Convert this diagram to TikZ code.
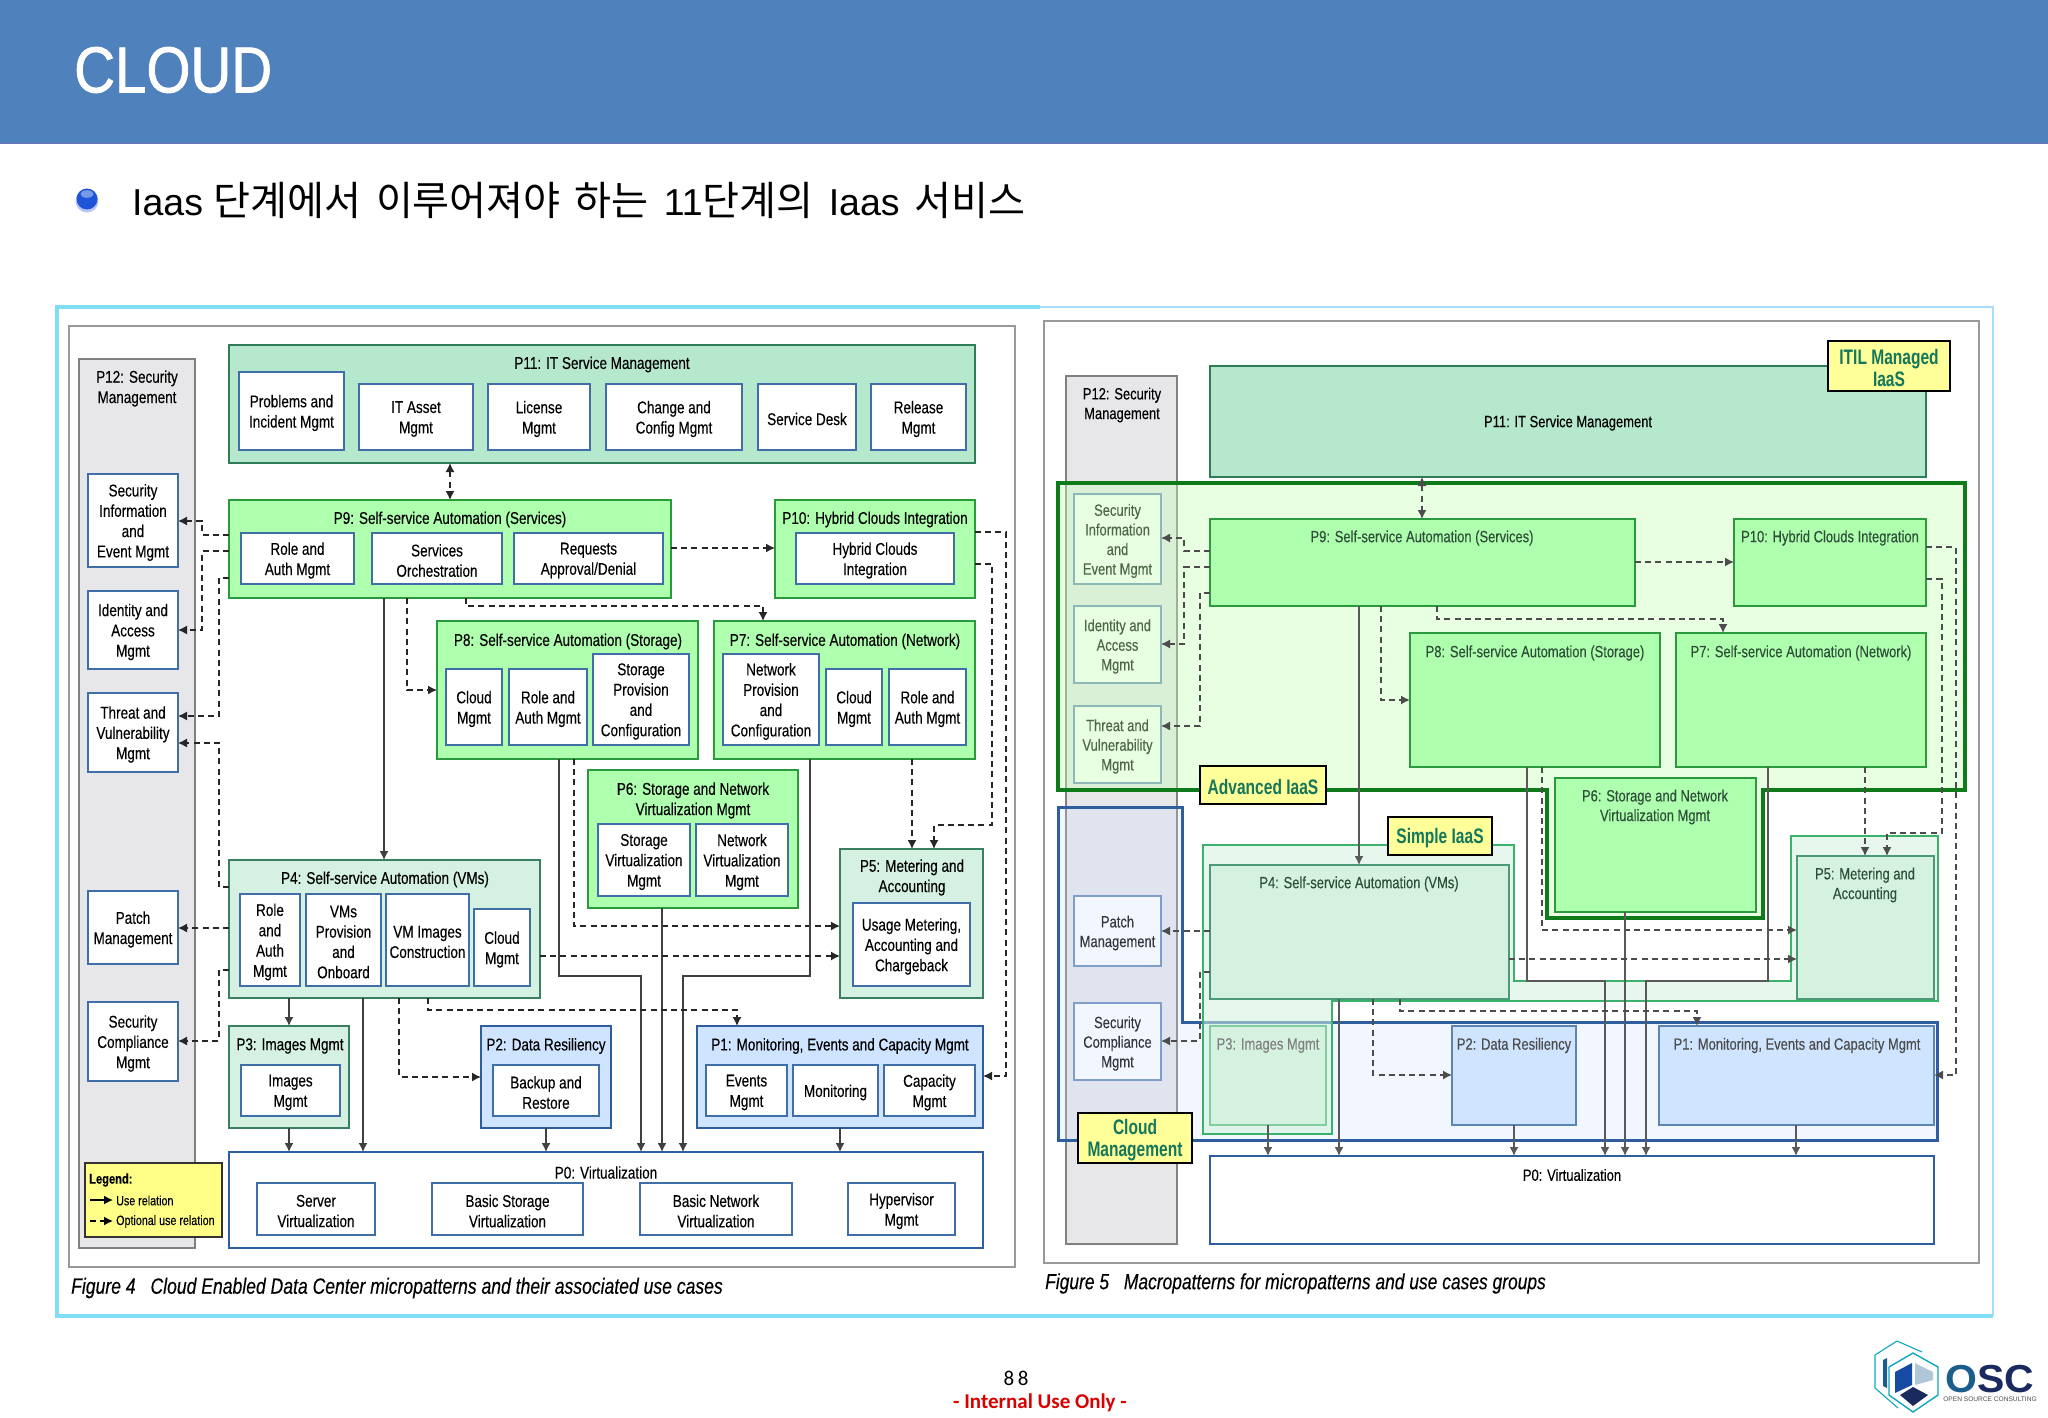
\documentclass[tikz,border=0pt]{standalone}
\usepackage{fontspec}
\usetikzlibrary{arrows.meta,shapes.geometric}
\setmainfont{Liberation Sans}
\newfontfamily\diag[FakeStretch=0.795,FakeBold=0.25]{Liberation Sans}
\newfontfamily\labf[FakeStretch=0.74]{Liberation Sans}
\newfontfamily\titlef[FakeStretch=0.87,FakeBold=1.2]{Liberation Sans}
\newfontfamily\krf{Noto Sans CJK KR}
\newfontfamily\foot{Carlito}
\newfontfamily\logof[FakeStretch=1.05]{Liberation Sans}
\definecolor{hdrblue}{HTML}{4F81BD}
\definecolor{hdrline}{HTML}{6A78B8}
\definecolor{ublue}{HTML}{3F6EA8}
\definecolor{bfill}{HTML}{CFE4FF}
\definecolor{gfill}{HTML}{AEFFAE}
\definecolor{gdraw}{HTML}{2A9A3C}
\definecolor{tfill}{HTML}{B6E8CE}
\definecolor{tdraw}{HTML}{2F7D57}
\definecolor{mfill}{HTML}{D4F1E1}
\definecolor{mdraw}{HTML}{3A8060}
\definecolor{labtx}{HTML}{14775A}
\definecolor{labfill}{HTML}{FFFF99}
\definecolor{legfill}{HTML}{FFFF88}
\definecolor{pgray}{HTML}{E7E7EA}
\definecolor{cyanf}{HTML}{7FDDF5}
\definecolor{cyanl}{HTML}{A8DFF8}
\definecolor{rtx}{HTML}{2F4F3A}
\definecolor{advd}{HTML}{0F7A1A}
\definecolor{advf}{HTML}{C7FFB8}
\definecolor{simd}{HTML}{3BB26B}
\definecolor{simf}{HTML}{D5F2E0}
\definecolor{simb}{HTML}{4A9A78}
\definecolor{cldd}{HTML}{2F5E9E}
\definecolor{cldf}{HTML}{C8DCFF}
\definecolor{navy}{HTML}{1B2A5E}
\definecolor{osc}{HTML}{1B5E8C}
\definecolor{ballb}{HTML}{1E55D8}
\definecolor{ballh}{HTML}{B8C4F8}
\newcommand{\bx}[7]{%
  \pgfmathsetmacro\bxw{#4-#2}\pgfmathsetmacro\bxh{#5-#3}%
  \node[#6,minimum width=\bxw pt,minimum height=\bxh pt,inner sep=0pt,outer sep=0pt,anchor=north west] (#1) at (#2,#3) {};%
  \if\relax\detokenize{#7}\relax\else
  \node[#6,draw=none,fill=none,inner sep=0pt,align=center] (#1t) at ([yshift=-2pt]#1.center) {#7};\fi}
\tikzset{
  lf/.style={font=\diag\fontsize{17}{20.3}\selectfont,text=black},
  rf/.style={font=\diag\fontsize{16.3}{19.6}\selectfont,text=rtx},
  ibox/.style={draw=ublue,fill=white,line width=2pt,lf},
  gbox/.style={draw=gdraw,fill=gfill,line width=2.2pt},
  tbox/.style={draw=tdraw,fill=tfill,line width=2.2pt},
  mbox/.style={draw=mdraw,fill=mfill,line width=2.2pt},
  ubox/.style={draw=cldd,fill=bfill,line width=2.2pt},
  zbox/.style={draw=cldd,fill=white,line width=2.2pt},
  grbox/.style={draw=black!50,fill=pgray,line width=2pt},
  rsec/.style={draw=ublue!80,fill=white,line width=2pt,rf,text=black},
  lab/.style={draw=black,fill=labfill,line width=2.5pt,text=labtx,font=\labf\bfseries\fontsize{21}{22.5}\selectfont},
  ttl/.style={lf,inner sep=0pt,align=center,yshift=-1.5pt},
  rttl/.style={rf,inner sep=0pt,align=center,yshift=-1pt},
  opt/.style={draw=black!85,line width=1.4pt,dash pattern=on 6pt off 4.2pt,-{Latex[length=9pt,width=9pt]}},
  usee/.style={draw=black!75,line width=1.5pt,-{Latex[length=9pt,width=9pt]}},
  ropt/.style={opt,draw=black!70},
  ruse/.style={usee,draw=black!65},
  capt/.style={font=\diag\itshape\fontsize{22}{26}\selectfont,text=black,anchor=west,inner sep=0pt},
}
\begin{document}
\begin{tikzpicture}[x=1pt,y=-1pt]
\useasboundingbox (0,0) rectangle (2048,1418);
\fill[white] (0,0) rectangle (2048,1418);
% header
\fill[hdrblue] (0,0) rectangle (2048,143.5);
\draw[hdrline,line width=1pt] (0,143.5) -- (2048,143.5);
\node[anchor=west,inner sep=0pt,text=white,font=\titlef\fontsize{65}{70}\selectfont] (cloudt) at (74,70) {CLOUD};
% bullet
\fill[ballh] (87,201) circle (11.5);
\fill[ballb] (87,199) circle (10.5);
\fill[white,opacity=.4] (87,194) ellipse (6.5 and 3.8);
\node[anchor=west,inner sep=0pt,text=black,font=\fontsize{37.5}{44}\selectfont] (subt) at (132,200) {Iaas\hspace{10pt}{\krf\fontsize{40.2}{44}\selectfont 단계에서\hspace{15pt}이루어져야\hspace{14pt}하는}\hspace{15pt}11{\krf\fontsize{40.2}{44}\selectfont 단계의}\hspace{15pt}Iaas\hspace{15pt}{\krf\fontsize{40.2}{44}\selectfont 서비스}};
% outer frame
\draw[cyanl,line width=2pt] (1040,307) -- (1993,307) -- (1993,1316);
\draw[cyanf,line width=3.5pt] (1993,1316) -- (57,1316) -- (57,307) -- (1040,307);
% ================= LEFT PANEL =================
\bx{lframe}{69}{326}{1015}{1267}{draw=black!40,fill=white,line width=1.6pt}{}
\bx{lp12}{79}{359}{195}{1248}{grbox}{}
\node[ttl] (lp12t) at (137,387) {P12: Security\\Management};
\bx{lsinfo}{88}{474}{178}{567}{ibox}{Security\\Information\\and\\Event Mgmt}
\bx{lidac}{88}{591}{178}{669}{ibox}{Identity and\\Access\\Mgmt}
\bx{lthrt}{88}{693}{178}{772}{ibox}{Threat and\\Vulnerability\\Mgmt}
\bx{lpatch}{88}{891}{178}{964}{ibox}{Patch\\Management}
\bx{lscomp}{88}{1002}{178}{1081}{ibox}{Security\\Compliance\\Mgmt}
% P11
\bx{lp11}{229}{345}{975}{463}{tbox}{}
\node[ttl] (lp11t) at (602,363) {P11: IT Service Management};
\bx{la}{239}{372}{344}{450}{ibox}{Problems and\\Incident Mgmt}
\bx{lb}{359}{384}{473}{450}{ibox}{IT Asset\\Mgmt}
\bx{lc}{488}{384}{590}{450}{ibox}{License\\Mgmt}
\bx{ld}{606}{384}{742}{450}{ibox}{Change and\\Config Mgmt}
\bx{le}{758}{384}{856}{450}{ibox}{Service Desk}
\bx{lf1}{871}{384}{966}{450}{ibox}{Release\\Mgmt}
% P9
\bx{lp9}{229}{500}{671}{598}{gbox}{}
\node[ttl] (lp9t) at (450,518) {P9: Self-service Automation (Services)};
\bx{l9a}{241}{533}{354}{584}{ibox}{Role and\\Auth Mgmt}
\bx{l9b}{372}{533}{502}{584}{ibox}{Services\\Orchestration}
\bx{l9c}{514}{533}{663}{584}{ibox}{Requests\\Approval/Denial}
% P10
\bx{lp10}{775}{500}{975}{598}{gbox}{}
\node[ttl] (lp10t) at (875,518) {P10: Hybrid Clouds Integration};
\bx{l10a}{796}{533}{954}{584}{ibox}{Hybrid Clouds\\Integration}
% P8
\bx{lp8}{437}{621}{698}{759}{gbox}{}
\node[ttl] (lp8t) at (568,640) {P8: Self-service Automation (Storage)};
\bx{l8a}{446}{669}{502}{745}{ibox}{Cloud\\Mgmt}
\bx{l8b}{509}{669}{587}{745}{ibox}{Role and\\Auth Mgmt}
\bx{l8c}{593}{654}{689}{745}{ibox}{Storage\\Provision\\and\\Configuration}
% P7
\bx{lp7}{714}{621}{975}{759}{gbox}{}
\node[ttl] (lp7t) at (845,640) {P7: Self-service Automation (Network)};
\bx{l7a}{723}{654}{819}{745}{ibox}{Network\\Provision\\and\\Configuration}
\bx{l7b}{826}{669}{882}{745}{ibox}{Cloud\\Mgmt}
\bx{l7c}{889}{669}{966}{745}{ibox}{Role and\\Auth Mgmt}
% P6
\bx{lp6}{588}{770}{798}{908}{gbox}{}
\node[ttl] (lp6t) at (693,799) {P6: Storage and Network\\Virtualization Mgmt};
\bx{l6a}{598}{824}{690}{896}{ibox}{Storage\\Virtualization\\Mgmt}
\bx{l6b}{696}{824}{788}{896}{ibox}{Network\\Virtualization\\Mgmt}
% P5
\bx{lp5}{840}{849}{983}{998}{mbox}{}
\node[ttl] (lp5t) at (912,876) {P5: Metering and\\Accounting};
\bx{l5a}{853}{903}{970}{986}{ibox}{Usage Metering,\\Accounting and\\Chargeback}
% P4
\bx{lp4}{229}{860}{540}{998}{mbox}{}
\node[ttl] (lp4t) at (385,878) {P4: Self-service Automation (VMs)};
\bx{l4a}{240}{894}{300}{986}{ibox}{Role\\and\\Auth\\Mgmt}
\bx{l4b}{306}{894}{381}{986}{ibox}{VMs\\Provision\\and\\Onboard}
\bx{l4c}{386}{894}{469}{986}{ibox}{VM Images\\Construction}
\bx{l4d}{474}{909}{530}{986}{ibox}{Cloud\\Mgmt}
% P3
\bx{lp3}{229}{1026}{349}{1128}{mbox}{}
\node[ttl] (lp3t) at (290,1044.5) {P3: Images Mgmt};
\bx{l3a}{241}{1065}{340}{1116}{ibox}{Images\\Mgmt}
% P2
\bx{lp2}{481}{1026}{611}{1128}{ubox}{}
\node[ttl] (lp2t) at (546,1044.5) {P2: Data Resiliency};
\bx{l2a}{493}{1065}{599}{1116}{ibox}{Backup and\\Restore}
% P1
\bx{lp1}{697}{1026}{983}{1128}{ubox}{}
\node[ttl] (lp1t) at (840,1044.5) {P1: Monitoring, Events and Capacity Mgmt};
\bx{l1a}{706}{1065}{787}{1116}{ibox}{Events\\Mgmt}
\bx{l1b}{793}{1065}{878}{1116}{ibox}{Monitoring}
\bx{l1c}{884}{1065}{975}{1116}{ibox}{Capacity\\Mgmt}
% P0
\bx{lp0}{229}{1152}{983}{1248}{zbox}{}
\node[ttl] (lp0t) at (606,1171) {P0: Virtualization};
\bx{l0a}{257}{1183}{375}{1235}{ibox}{Server\\Virtualization}
\bx{l0b}{432}{1183}{583}{1235}{ibox}{Basic Storage\\Virtualization}
\bx{l0c}{640}{1183}{792}{1235}{ibox}{Basic Network\\Virtualization}
\bx{l0d}{848}{1183}{955}{1235}{ibox}{Hypervisor\\Mgmt}
% Legend
\bx{legend}{85}{1163}{222}{1237}{draw=black!80,fill=legfill,line width=2pt}{}
\node[anchor=west,inner sep=0pt,font=\diag\bfseries\fontsize{14}{16}\selectfont] (legt) at (89,1180) {Legend:};
\coordinate (lega1) at (90,1200); \coordinate (lega2) at (113,1200);
\coordinate (legb1) at (90,1221); \coordinate (legb2) at (113,1221);
\draw[usee,draw=black] (lega1) -- (lega2);
\draw[opt,draw=black,dash pattern=on 6pt off 4pt] (legb1) -- (legb2);
\node[anchor=west,inner sep=0pt,font=\diag\fontsize{13.5}{16}\selectfont] (legu) at (116,1200.5) {Use relation};
\node[anchor=west,inner sep=0pt,font=\diag\fontsize{13.5}{16}\selectfont] (lego) at (116,1221.5) {Optional use relation};
% Left connectors
\draw[opt,{Latex[length=9pt,width=9pt]}-{Latex[length=9pt,width=9pt]}] (lp11.south -| 450,0) -- (lp9.north -| 450,0);
\draw[opt] (lp9.west |- 0,535) -- (202,535) -- (202,521) -- (lsinfo.east |- 0,521);
\draw[opt] (lp9.west |- 0,551) -- (202,551) -- (202,630) -- (lidac.east |- 0,630);
\draw[opt] (lp9.west |- 0,578) -- (219,578) -- (219,716) -- (lthrt.east |- 0,716);
\draw[opt] (lp4.west |- 0,887) -- (219,887) -- (219,743) -- (lthrt.east |- 0,743);
\draw[opt] (lp4.west |- 0,928) -- (lpatch.east |- 0,928);
\draw[opt] (lp4.west |- 0,970) -- (219,970) -- (219,1041) -- (lscomp.east |- 0,1041);
\draw[usee] (lp9.south -| 384,0) -- (lp4.north -| 384,0);
\draw[opt] (lp9.south -| 407,0) -- (407,690) -- (lp8.west |- 0,690);
\draw[opt] (lp9.south -| 466,0) -- (466,606) -- (763,606) -- (lp7.north -| 763,0);
\draw[opt] (lp9.east |- 0,548) -- (lp10.west |- 0,548);
\draw[opt] (lp10.east |- 0,532) -- (1006,532) -- (1006,1076) -- (lp1.east |- 0,1076);
\draw[opt] (lp10.east |- 0,564) -- (992,564) -- (992,825) -- (934,825) -- (lp5.north -| 934,0);
\draw[opt] (lp7.south -| 912,0) -- (lp5.north -| 912,0);
\draw[opt] (lp8.south -| 574,0) -- (574,926) -- (lp5.west |- 0,926);
\draw[usee] (lp8.south -| 559,0) -- (559,976) -- (641,976) -- (lp0.north -| 641,0);
\draw[usee] (lp6.south -| 662,0) -- (lp0.north -| 662,0);
\draw[usee] (lp7.south -| 810,0) -- (810,976) -- (683,976) -- (lp0.north -| 683,0);
\draw[opt] (lp4.east |- 0,956) -- (lp5.west |- 0,956);
\draw[usee] (lp4.south -| 289,0) -- (lp3.north -| 289,0);
\draw[usee] (lp4.south -| 363,0) -- (lp0.north -| 363,0);
\draw[opt] (lp4.south -| 399,0) -- (399,1077) -- (lp2.west |- 0,1077);
\draw[opt] (lp4.south -| 428,0) -- (428,1010) -- (737,1010) -- (lp1.north -| 737,0);
\draw[usee] (lp3.south -| 289,0) -- (lp0.north -| 289,0);
\draw[usee] (lp2.south -| 546,0) -- (lp0.north -| 546,0);
\draw[usee] (lp1.south -| 840,0) -- (lp0.north -| 840,0);
\node[capt,font=\diag\itshape\fontsize{22.1}{26}\selectfont] (lcap) at (71,1288) {Figure 4\hspace{10pt} Cloud Enabled Data Center micropatterns and their associated use cases};
% ================= RIGHT PANEL =================
\bx{rframe}{1044}{321}{1979}{1263}{draw=black!40,fill=white,line width=1.6pt}{}
\bx{rp12}{1066}{376}{1177}{1244}{grbox}{}
\node[rttl,text=black] (rp12t) at (1122,404) {P12: Security\\Management};
\bx{rsinfo}{1074}{494}{1161}{584}{rsec}{Security\\Information\\and\\Event Mgmt}
\bx{ridac}{1074}{606}{1161}{683}{rsec}{Identity and\\Access\\Mgmt}
\bx{rthrt}{1074}{706}{1161}{783}{rsec}{Threat and\\Vulnerability\\Mgmt}
\bx{rpatch}{1074}{896}{1161}{966}{rsec}{Patch\\Management}
\bx{rscomp}{1074}{1003}{1161}{1080}{rsec}{Security\\Compliance\\Mgmt}
% macro-pattern overlays
\path[fill=cldf,fill opacity=.25] (1058,807) -- (1182,807) -- (1182,1022) -- (1937,1022) -- (1937,1140) -- (1058,1140) -- cycle;
\draw[cldd,line width=3pt,line join=miter] (1058,807) -- (1182,807) -- (1182,1022) -- (1937,1022) -- (1937,1140) -- (1058,1140) -- cycle;
\path[fill=advf,fill opacity=.4] (1058,483) -- (1965,483) -- (1965,790) -- (1763,790) -- (1763,918) -- (1547,918) -- (1547,790) -- (1058,790) -- cycle;
\draw[advd,line width=3.2pt] (1058,483) -- (1965,483) -- (1965,790) -- (1763,790) -- (1763,918) -- (1547,918) -- (1547,790) -- (1058,790) -- cycle;
\path[fill=simf,fill opacity=.55] (1203,845) -- (1514,845) -- (1514,981) -- (1791,981) -- (1791,836) -- (1938,836) -- (1938,1001) -- (1332,1001) -- (1332,1134) -- (1203,1134) -- cycle;
\draw[simd,line width=2.6pt] (1203,845) -- (1514,845) -- (1514,981) -- (1791,981) -- (1791,836) -- (1938,836) -- (1938,1001) -- (1332,1001) -- (1332,1134) -- (1203,1134) -- cycle;
% pattern boxes
\bx{rp11}{1210}{366}{1926}{477}{tbox}{}
\node[rttl,text=black] (rp11t) at (1568,422) {P11: IT Service Management};
\bx{rp9}{1210}{519}{1635}{606}{gbox}{}
\node[rttl] (rp9t) at (1422,537) {P9: Self-service Automation (Services)};
\bx{rp10}{1734}{519}{1926}{606}{gbox}{}
\node[rttl] (rp10t) at (1830,537) {P10: Hybrid Clouds Integration};
\bx{rp8}{1410}{633}{1660}{767}{gbox}{}
\node[rttl] (rp8t) at (1535,652) {P8: Self-service Automation (Storage)};
\bx{rp7}{1676}{633}{1926}{767}{gbox}{}
\node[rttl] (rp7t) at (1801,652) {P7: Self-service Automation (Network)};
\bx{rp6}{1555}{778}{1756}{912}{gbox}{}
\node[rttl] (rp6t) at (1655,806) {P6: Storage and Network\\Virtualization Mgmt};
\bx{rp5}{1797}{856}{1934}{999}{draw=simb,fill=simf,line width=2.2pt}{}
\node[rttl] (rp5t) at (1865,884) {P5: Metering and\\Accounting};
\bx{rp4}{1210}{865}{1509}{999}{draw=simb,fill=simf,line width=2.2pt}{}
\node[rttl] (rp4t) at (1359,883) {P4: Self-service Automation (VMs)};
\bx{rp3}{1210}{1026}{1326}{1125}{draw=simd!65!white,fill=simf,line width=2.2pt}{}
\node[rttl,text=black!50] (rp3t) at (1268,1044.5) {P3: Images Mgmt};
\bx{rp2}{1452}{1026}{1576}{1125}{draw=ublue!85,fill=bfill,line width=2.2pt}{}
\node[rttl,text=black!70] (rp2t) at (1514,1044.5) {P2: Data Resiliency};
\bx{rp1}{1659}{1026}{1934}{1125}{draw=ublue!85,fill=bfill,line width=2.2pt}{}
\node[rttl,text=black!70] (rp1t) at (1797,1044.5) {P1: Monitoring, Events and Capacity Mgmt};
\bx{rp0}{1210}{1156}{1934}{1244}{zbox}{}
\node[rttl,text=black] (rp0t) at (1572,1174) {P0: Virtualization};
% Right connectors
\draw[ropt,{Latex[length=9pt,width=9pt]}-{Latex[length=9pt,width=9pt]}] (rp11.south -| 1422,0) -- (rp9.north -| 1422,0);
\draw[ropt] (rp9.west |- 0,551) -- (1184,551) -- (1184,538) -- (rsinfo.east |- 0,538);
\draw[ropt] (rp9.west |- 0,567) -- (1184,567) -- (1184,644) -- (ridac.east |- 0,644);
\draw[ropt] (rp9.west |- 0,593) -- (1200,593) -- (1200,726) -- (rthrt.east |- 0,726);
\draw[ropt] (rp4.west |- 0,931) -- (rpatch.east |- 0,931);
\draw[ropt] (rp4.west |- 0,972) -- (1200,972) -- (1200,1041) -- (rscomp.east |- 0,1041);
\draw[ruse] (rp9.south -| 1359,0) -- (rp4.north -| 1359,0);
\draw[ropt] (rp9.south -| 1381,0) -- (1381,700) -- (rp8.west |- 0,700);
\draw[ropt] (rp9.south -| 1437,0) -- (1437,619) -- (1723,619) -- (rp7.north -| 1723,0);
\draw[ropt] (rp9.east |- 0,562) -- (rp10.west |- 0,562);
\draw[ropt] (rp10.east |- 0,547) -- (1956,547) -- (1956,1075) -- (rp1.east |- 0,1075);
\draw[ropt] (rp10.east |- 0,579) -- (1942,579) -- (1942,833) -- (1887,833) -- (rp5.north -| 1887,0);
\draw[ropt] (rp7.south -| 1865,0) -- (rp5.north -| 1865,0);
\draw[ropt] (rp8.south -| 1542,0) -- (1542,930) -- (rp5.west |- 0,930);
\draw[ruse] (rp8.south -| 1527,0) -- (1527,981) -- (1605,981) -- (rp0.north -| 1605,0);
\draw[ruse] (rp6.south -| 1625,0) -- (rp0.north -| 1625,0);
\draw[ruse] (rp7.south -| 1768,0) -- (1768,981) -- (1646,981) -- (rp0.north -| 1646,0);
\draw[ropt] (rp4.east |- 0,959) -- (rp5.west |- 0,959);
\draw[ruse] (rp4.south -| 1339,0) -- (rp0.north -| 1339,0);
\draw[ropt] (rp4.south -| 1373,0) -- (1373,1075) -- (rp2.west |- 0,1075);
\draw[ropt] (rp4.south -| 1400,0) -- (1400,1011) -- (1697,1011) -- (rp1.north -| 1697,0);
\draw[ruse] (rp3.south -| 1268,0) -- (rp0.north -| 1268,0);
\draw[ruse] (rp2.south -| 1514,0) -- (rp0.north -| 1514,0);
\draw[ruse] (rp1.south -| 1796,0) -- (rp0.north -| 1796,0);
% labels
\bx{ritil}{1828}{341}{1950}{391}{lab}{ITIL Managed\\IaaS}
\bx{radv}{1200}{766}{1326}{804}{lab}{Advanced IaaS}
\bx{rsim}{1388}{817}{1492}{855}{lab}{Simple IaaS}
\bx{rcld}{1078}{1113}{1192}{1163}{lab}{Cloud\\Management}
\node[capt,font=\diag\itshape\fontsize{21.9}{26}\selectfont] (rcap) at (1045,1283.5) {Figure 5\hspace{10pt} Macropatterns for micropatterns and use cases groups};
% footer
\node[inner sep=0pt,font=\foot\fontsize{21}{24}\selectfont,text=black] (pgnum) at (1016,1378) {8\,8};
\node[inner sep=0pt,font=\foot\bfseries\fontsize{21}{24}\selectfont,text=red!85!black] (intern) at (1040,1403) {- Internal Use Only -};
% logo
\draw[osc!55!cyan,line width=1.1pt] (1897,1341) -- (1922,1352) (1875,1355) -- (1897,1341) (1875,1355) -- (1875,1388) -- (1898,1408);
\fill[osc] (1883,1360) -- (1887,1358) -- (1887,1388) -- (1883,1386) -- cycle;
\draw[osc!55!cyan,line width=1.4pt,fill=white] (1913,1353) -- (1938,1367) -- (1938,1395) -- (1913,1412) -- (1889,1395) -- (1889,1367) -- cycle;
\fill[osc!80!blue] (1895,1372) -- (1912,1363) -- (1912,1385) -- (1895,1393) -- cycle;
\fill[osc!35!white] (1915,1363) -- (1933,1372) -- (1933,1380) -- (1915,1385) -- cycle;
\fill[navy] (1913,1387) -- (1928,1395) -- (1913,1406) -- (1900,1395) -- cycle;
\node[inner sep=0pt,anchor=west,font=\logof\bfseries\fontsize{39}{42}\selectfont] (osct) at (1945,1379) {\textcolor{osc}{O}\textcolor{navy}{SC}};
\node[inner sep=0pt,font=\fontsize{6.6}{8}\selectfont,text=black!70] (osct2) at (1990,1399) {OPEN SOURCE CONSULTING};
\end{tikzpicture}
\end{document}
